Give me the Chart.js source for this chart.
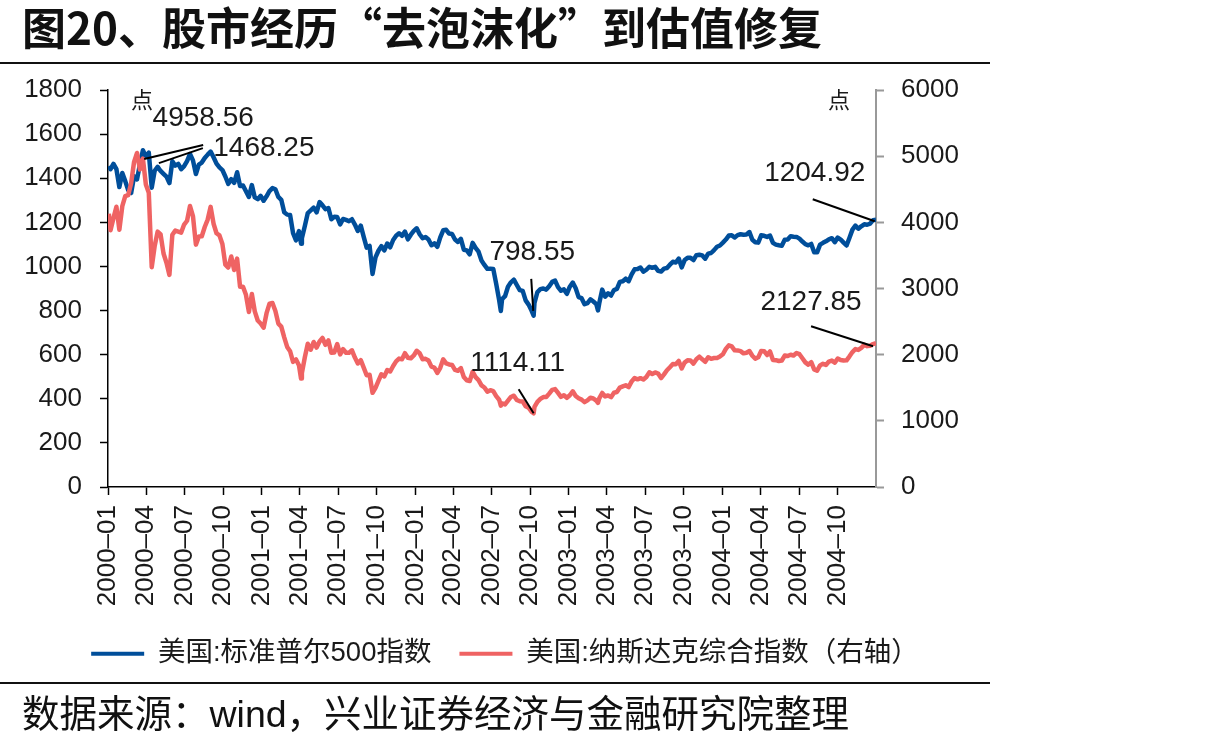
<!DOCTYPE html>
<html lang="zh-CN">
<head>
    <meta charset="UTF-8">
    <title>图20、股市经历“去泡沫化”到估值修复</title>
    <script src="https://cdn.jsdelivr.net/npm/chart.js"></script>
    <style>
        body { margin: 0; width: 1205px; height: 748px; background: #fff; position: relative; overflow: hidden; }
        #chartBox { position: absolute; left: 0; top: 0; width: 1205px; height: 748px; }
        .title { position: absolute; left: 22px; top: -2px; line-height: 56px; font-size: 44px; font-weight: bold;
                 font-family: "Noto Sans CJK SC", sans-serif; color: #111; white-space: nowrap; }
        .rule { position: absolute; left: 0; width: 990px; height: 2px; background: #111; }
        .source { position: absolute; left: 22px; top: 691px; line-height: 46px; font-size: 37.5px;
                  font-family: "Liberation Sans", "Noto Sans CJK SC", sans-serif; color: #111; white-space: nowrap; }
    </style>
</head>
<body>
    <div id="chartBox"><canvas id="chart"></canvas></div>
    <div class="title">图20、股市经历“去泡沫化”到估值修复</div>
    <div class="rule" style="top: 62px;"></div>
    <div class="rule" style="top: 682px;"></div>
    <div class="source">数据来源：wind，兴业证券经济与金融研究院整理</div>
    <script>
        // Clôtures hebdomadaires (vendredi), du 2000-01-07 au 2004-12-31
        const firstWeek = '2000-01-07';
        const spx = [
            1441, 1465, 1441, 1360, 1424, 1387, 1346, 1333, 1409, 1395, 1464, 1527, 1499,
            1516, 1357, 1434, 1452, 1433, 1420, 1407, 1378, 1477, 1457, 1465, 1441, 1455,
            1478, 1510, 1481, 1419, 1462, 1471, 1492, 1507, 1521, 1495, 1466, 1449, 1437,
            1408, 1374, 1396, 1379, 1427, 1365, 1367, 1341, 1315, 1369, 1313, 1305, 1320,
            1298, 1318, 1342, 1355, 1350, 1315, 1302, 1246, 1235, 1233, 1151, 1118, 1160,
            1128, 1183, 1242, 1254, 1267, 1245, 1292, 1277, 1260, 1265, 1214, 1225, 1224,
            1191, 1215, 1211, 1205, 1214, 1190, 1161, 1185, 1134, 1085, 1093, 966, 1041,
            1071, 1092, 1073, 1104, 1087, 1120, 1139, 1150, 1139, 1158, 1123, 1144, 1161,
            1173, 1146, 1128, 1133, 1122, 1096, 1105, 1089, 1132, 1164, 1166, 1149, 1147,
            1122, 1111, 1125, 1076, 1073, 1055, 1107, 1084, 1067, 1027, 1007, 989, 990,
            989, 921, 847, 852, 865, 908, 928, 940, 916, 893, 889, 846, 827,
            800, 835, 884, 897, 900, 895, 910, 930, 936, 906, 890, 896, 876,
            908, 927, 901, 861, 856, 829, 834, 851, 841, 829, 833, 895, 863,
            878, 868, 893, 898, 930, 933, 945, 933, 964, 987, 988, 995, 976,
            985, 998, 994, 998, 980, 977, 990, 993, 1008, 1021, 1018, 1036, 996,
            1029, 1039, 1039, 1029, 1051, 1053, 1050, 1035, 1058, 1061, 1074, 1089, 1095,
            1108, 1122, 1140, 1141, 1131, 1142, 1146, 1144, 1145, 1156, 1121, 1110, 1108,
            1141, 1139, 1134, 1140, 1107, 1099, 1096, 1094, 1121, 1122, 1137, 1135, 1134,
            1126, 1113, 1101, 1096, 1102, 1064, 1064, 1099, 1107, 1114, 1123, 1128, 1110,
            1131, 1122, 1108, 1095, 1130, 1167, 1185, 1171, 1182, 1191, 1189, 1194, 1210, 1212
        ];
        const nasdaq = [
            3882, 4064, 4235, 3887, 4244, 4395, 4411, 4590, 4914, 5048, 4798, 4964, 4573,
            4446, 3321, 3643, 3860, 3817, 3529, 3390, 3205, 3813, 3875, 3860, 3845, 3966,
            4024, 4246, 4095, 3663, 3787, 3789, 3930, 4042, 4234, 3979, 3835, 3803, 3673,
            3361, 3317, 3484, 3279, 3451, 3028, 3027, 2905, 2645, 2917, 2654, 2517, 2471,
            2407, 2627, 2771, 2781, 2661, 2470, 2425, 2262, 2117, 2052, 1891, 1928, 1840,
            1720, 1961, 2164, 2075, 2192, 2107, 2199, 2252, 2149, 2215, 2028, 2034, 2161,
            2004, 2084, 2029, 2029, 2066, 1956, 1868, 1917, 1805, 1688, 1695, 1423, 1499,
            1605, 1704, 1671, 1768, 1746, 1828, 1899, 1941, 1930, 2022, 1953, 1945, 1988,
            2059, 2022, 1930, 1937, 1911, 1819, 1805, 1724, 1802, 1929, 1868, 1852, 1845,
            1770, 1757, 1797, 1663, 1613, 1601, 1741, 1661, 1616, 1535, 1504, 1441, 1463,
            1449, 1374, 1319, 1263, 1247, 1306, 1361, 1380, 1315, 1295, 1291, 1221, 1199,
            1139, 1210, 1288, 1331, 1360, 1359, 1411, 1468, 1479, 1422, 1362, 1387, 1348,
            1387, 1447, 1376, 1342, 1321, 1283, 1310, 1349, 1338, 1305, 1340, 1421, 1369,
            1383, 1358, 1425, 1435, 1502, 1520, 1538, 1510, 1596, 1646, 1627, 1645, 1625,
            1663, 1733, 1708, 1731, 1715, 1645, 1702, 1765, 1810, 1858, 1855, 1905, 1792,
            1880, 1915, 1912, 1865, 1932, 1970, 1930, 1893, 1960, 1937, 1949, 1951, 1974,
            2006, 2087, 2140, 2124, 2066, 2064, 2053, 2020, 2030, 2055, 1984, 1940, 1960,
            2057, 2053, 1995, 2049, 1920, 1917, 1904, 1912, 1987, 1979, 1999, 1987, 2025,
            2007, 1946, 1883, 1849, 1887, 1777, 1757, 1838, 1862, 1845, 1895, 1911, 1879,
            1942, 1919, 1911, 1915, 1975, 2039, 2085, 2071, 2102, 2148, 2129, 2136, 2160, 2175
        ];
        // Points bas / points de départ journaliers
        const keyDates = ['2000-01-03', '2001-04-04', '2002-07-23', '2002-10-09', '2003-03-11'];
        const spxKey = [1455, 1103, 798, 777, 801];
        const nasdaqKey = [4131, 1638, 1229, 1114, 1272];

        const tickLabels = ['2000-01', '2000-04', '2000-07', '2000-10', '2001-01', '2001-04', '2001-07', '2001-10',
            '2002-01', '2002-04', '2002-07', '2002-10', '2003-01', '2003-04', '2003-07', '2003-10',
            '2004-01', '2004-04', '2004-07', '2004-10'];
        const seriesNames = ['美国:标准普尔500指数', '美国:纳斯达克综合指数（右轴）'];
        const lastDay = '2004-12-31';

        function dayOf(s) {
            const p = s.split('-').map(Number);
            return (Date.UTC(p[0], p[1] - 1, p[2] || 1) - Date.UTC(2000, 0, 1)) / 86400000;
        }

        function buildPoints(weekly, keys) {
            const start = dayOf(firstWeek);
            const pts = weekly.map((v, i) => ({ x: start + 7 * i, y: v }));
            keyDates.forEach((d, i) => pts.push({ x: dayOf(d), y: keys[i] }));
            return pts.sort((a, b) => a.x - b.x);
        }

        // Étiquettes de valeurs avec leur trait de rappel
        const notes = [
            { text: '4958.56', date: '2000-03-27', value: 4958.56, axis: 'y2', from: [59, -14], at: [59, -41] },
            { text: '1468.25', date: '2000-05-01', value: 1468.25, axis: 'y', from: [44, -15], at: [105, -15] },
            { text: '798.55', date: '2002-10-08', value: 798.55, axis: 'y', from: [-2, -32], at: [-1, -59] },
            { text: '1114.11', date: '2002-10-09', value: 1114.11, axis: 'y2', from: [-15, -24], at: [-16, -50] },
            { text: '1204.92', date: '2004-12-28', value: 1204.92, axis: 'y', from: [-62, -22], at: [-60, -48] },
            { text: '2127.85', date: '2004-12-24', value: 2127.85, axis: 'y2', from: [-62, -20], at: [-62, -44] }
        ];

        const notesPlugin = {
            id: 'notes',
            afterDatasetsDraw(chart) {
                const ctx = chart.ctx;
                const area = chart.chartArea;
                const sx = chart.scales.x;
                ctx.save();
                ctx.strokeStyle = '#000';
                ctx.lineWidth = 2;
                ctx.fillStyle = '#1a1a1a';
                ctx.textAlign = 'center';
                ctx.textBaseline = 'middle';
                ctx.font = '28px "Liberation Sans", sans-serif';
                notes.forEach(n => {
                    const px = sx.getPixelForValue(dayOf(n.date));
                    const py = chart.scales[n.axis].getPixelForValue(n.value);
                    ctx.beginPath();
                    ctx.moveTo(px + n.from[0], py + n.from[1]);
                    ctx.lineTo(px, py);
                    ctx.stroke();
                    ctx.fillText(n.text, px + n.at[0], py + n.at[1]);
                });
                // unités des deux axes
                ctx.font = '22px "Noto Sans CJK SC", sans-serif';
                ctx.fillText('点', area.left + 34, area.top + 10);
                ctx.fillText('点', area.right - 37, area.top + 10);
                ctx.restore();
            }
        };

        Chart.defaults.color = '#1a1a1a';
        Chart.defaults.font.family = '"Liberation Sans", "Noto Sans CJK SC", sans-serif';

        const tickFont = { size: 26 };

        new Chart(document.getElementById('chart'), {
            type: 'line',
            data: {
                datasets: [{
                    label: seriesNames[0],
                    data: buildPoints(spx, spxKey),
                    yAxisID: 'y',
                    borderColor: '#004E9A',
                    backgroundColor: '#004E9A',
                    borderWidth: 4.5,
                    pointRadius: 0,
                    order: 1
                }, {
                    label: seriesNames[1],
                    data: buildPoints(nasdaq, nasdaqKey),
                    yAxisID: 'y2',
                    borderColor: '#EF6363',
                    backgroundColor: '#EF6363',
                    borderWidth: 4.5,
                    pointRadius: 0,
                    order: 0
                }]
            },
            options: {
                responsive: true,
                maintainAspectRatio: false,
                animation: false,
                layout: { padding: { left: 20, right: 215, top: 90, bottom: 70.5 } },
                elements: { line: { tension: 0, borderJoinStyle: 'round' } },
                scales: {
                    x: {
                        type: 'linear',
                        min: 0,
                        max: dayOf(lastDay),
                        afterBuildTicks: s => { s.ticks = tickLabels.map(t => ({ value: dayOf(t) })); },
                        afterFit: s => { s.height = 125; },
                        ticks: {
                            autoSkip: false,
                            minRotation: 90,
                            maxRotation: 90,
                            padding: 10,
                            font: tickFont,
                            callback: (v, i) => tickLabels[i].replace('-', '–')
                        },
                        grid: { drawOnChartArea: false, tickLength: 8, color: '#000', tickWidth: 1.5 },
                        border: { color: '#000', width: 1.5 }
                    },
                    y: {
                        position: 'left',
                        min: 0,
                        max: 1800,
                        afterFit: s => { s.width = 88; },
                        ticks: { stepSize: 200, padding: 18, font: tickFont, callback: v => String(v) },
                        grid: { drawOnChartArea: false, tickLength: 8, color: '#000', tickWidth: 1.5 },
                        border: { color: '#000', width: 1.5 }
                    },
                    y2: {
                        position: 'right',
                        min: 0,
                        max: 6000,
                        afterFit: s => { s.width = 114; },
                        ticks: { stepSize: 1000, padding: 17, font: tickFont, callback: v => String(v) },
                        grid: { drawOnChartArea: false, tickLength: 8, color: '#999', tickWidth: 2 },
                        border: { color: '#999', width: 2 }
                    }
                },
                plugins: {
                    legend: {
                        position: 'bottom',
                        labels: {
                            boxWidth: 53,
                            boxHeight: 4,
                            padding: 28,
                            font: { size: 27.5 },
                            generateLabels: chart => Chart.defaults.plugins.legend.labels.generateLabels(chart)
                                .sort((a, b) => a.datasetIndex - b.datasetIndex)
                                .map(it => Object.assign(it, { lineWidth: 0, fillStyle: it.strokeStyle }))
                        }
                    },
                    tooltip: { enabled: false }
                }
            },
            plugins: [notesPlugin]
        });
    </script>
</body>
</html>
